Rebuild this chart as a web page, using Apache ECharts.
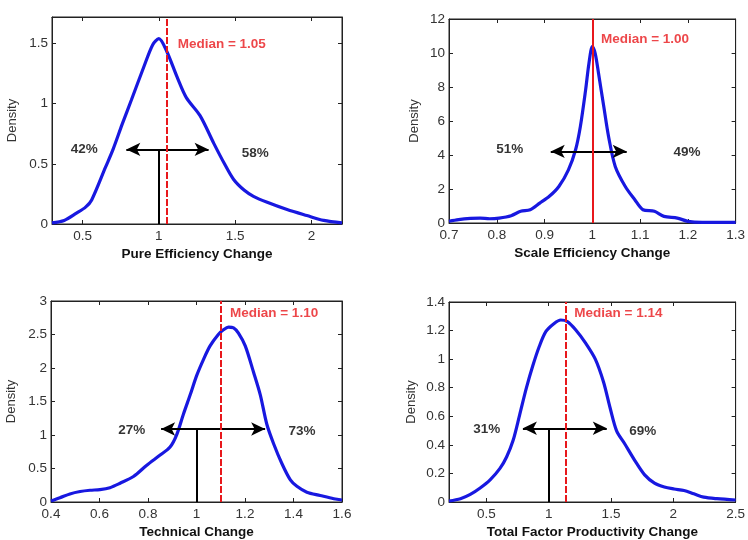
<!DOCTYPE html>
<html><head><meta charset="utf-8">
<script src="https://cdn.jsdelivr.net/npm/echarts@6.0.0/dist/echarts.min.js"></script>
<style>html,body{margin:0;padding:0;background:#fff}#c{width:748px;height:540px}</style>
</head><body><div id="c"></div><script>
// ---- data ----
const peX=[0.30,0.38,0.46,0.52,0.56,0.65,0.70,0.76,0.82,0.90,0.96,1.00,1.05,1.12,1.18,1.27,1.36,1.43,1.49,1.56,1.62,1.71,1.84,1.97,2.08,2.20];
const peY=[0.01,0.03,0.09,0.14,0.20,0.47,0.62,0.83,1.03,1.30,1.49,1.54,1.44,1.22,1.05,0.90,0.67,0.50,0.37,0.28,0.23,0.18,0.12,0.07,0.03,0.01];
const seX=[0.70,0.72,0.745,0.765,0.785,0.805,0.83,0.85,0.87,0.89,0.91,0.93,0.95,0.965,0.975,0.986,0.993,1.000,1.006,1.013,1.024,1.034,1.048,1.069,1.089,1.106,1.13,1.15,1.178,1.20,1.23,1.30];
const seY=[0.10,0.20,0.27,0.29,0.25,0.29,0.43,0.69,0.78,1.17,1.57,2.15,3.13,4.31,5.68,7.83,9.40,10.38,9.98,8.81,6.85,5.09,3.33,2.15,1.37,0.78,0.69,0.39,0.29,0.10,0.04,0.04];
const tcX=[0.40,0.437,0.478,0.52,0.561,0.602,0.643,0.685,0.74,0.795,0.85,0.891,0.919,0.946,0.974,1.001,1.029,1.056,1.09,1.111,1.132,1.153,1.173,1.201,1.235,1.263,1.29,1.318,1.352,1.387,1.414,1.455,1.51,1.566,1.60];
const tcY=[0.015,0.063,0.12,0.156,0.175,0.185,0.214,0.28,0.38,0.55,0.70,0.82,1.01,1.31,1.60,1.89,2.13,2.33,2.50,2.57,2.61,2.60,2.52,2.33,1.94,1.60,1.16,0.87,0.575,0.33,0.234,0.146,0.097,0.049,0.03];
const tfX=[0.20,0.292,0.371,0.45,0.53,0.609,0.662,0.714,0.767,0.82,0.873,0.925,0.978,1.044,1.097,1.15,1.216,1.295,1.374,1.44,1.493,1.545,1.611,1.69,1.77,1.849,1.928,2.007,2.086,2.165,2.244,2.35,2.50];
const tfY=[0.007,0.023,0.053,0.098,0.155,0.235,0.315,0.43,0.61,0.795,0.955,1.09,1.194,1.25,1.274,1.263,1.206,1.114,1.0,0.84,0.658,0.498,0.406,0.292,0.19,0.132,0.105,0.091,0.08,0.057,0.034,0.023,0.014];
const xTitles=['Pure Efficiency Change','Scale Efficiency Change','Technical Change','Total Factor Productivity Change'];
const medians=[1.05,1.00,1.10,1.14];
const medianLabels=['Median = 1.05','Median = 1.00','Median = 1.10','Median = 1.14'];
const leftShares=['42%','51%','27%','31%'];
const rightShares=['58%','49%','73%','69%'];
const curvesX=[peX,seX,tcX,tfX], curvesY=[peY,seY,tcY,tfY];

// ---- layout / annotation placement ----
const F='"Liberation Sans", Arial, Helvetica, sans-serif';
const P=[
 {grid:{left:52,top:17,width:290,height:207}, xMin:0.3,xMax:2.2,xNice:true,xInt:0.5, yMax:1.72,yInt:0.5, yShowMax:false, nameGapY:33,
  arrowY:0.62,arrowL:0.787,arrowR:1.326, lPos:[0.512,0.62], rPos:[1.632,0.585], mPos:[1.12,1.49], dashed:true},
 {grid:{left:449,top:19,width:291,height:204}, xMin:0.7,xMax:1.3,xInt:0.1, yMax:12,yInt:2, yShowMax:true, nameGapY:28,
  arrowY:4.21,arrowL:0.913,arrowR:1.072, lPos:[0.827,4.31], rPos:[1.198,4.15], mPos:[1.017,10.8], dashed:false},
 {grid:{left:51,top:301,width:291,height:205}, xMin:0.4,xMax:1.6,xInt:0.2, yMax:3,yInt:0.5, yShowMax:true, nameGapY:33,
  arrowY:1.09,arrowL:0.854,arrowR:1.283, lPos:[0.733,1.07], rPos:[1.435,1.06], mPos:[1.136,2.82], dashed:true},
 {grid:{left:449,top:302,width:291,height:204}, xMin:0.2,xMax:2.5,xNice:true,xInt:0.5, yMax:1.4,yInt:0.2, yShowMax:true, nameGapY:31,
  arrowY:0.516,arrowL:0.793,arrowR:1.466, lPos:[0.503,0.509], rPos:[1.755,0.498], mPos:[1.202,1.32], dashed:true}
];
const AX='#222';
const grids=[], xAxes=[], yAxes=[], series=[];
P.forEach((p,i)=>{
  grids.push(Object.assign({show:true,borderColor:AX,borderWidth:1,backgroundColor:'#fff'},p.grid));
  const xBase={type:'value',gridIndex:i,min:p.xMin,max:p.xMax,splitLine:{show:false},
    axisLine:{show:true,onZero:false,lineStyle:{color:AX,width:1}},
    axisTick:{show:true,inside:true,length:4,lineStyle:{color:AX}}};
  if(p.xNice){xBase.splitNumber=4;xBase.minInterval=p.xInt;xBase.maxInterval=p.xInt;}else{xBase.interval=p.xInt;}
  xAxes.push(Object.assign({},xBase,{position:'bottom',
    axisLabel:{color:'#333',fontSize:13.5,fontFamily:F,margin:5,showMinLabel:!p.xNice,showMaxLabel:(i===0?false:true)},
    name:xTitles[i],nameLocation:'middle',nameGap:23,
    nameTextStyle:{color:'#111',fontSize:13.5,fontWeight:'bold',fontFamily:F}}));
  xAxes.push(Object.assign({},xBase,{position:'top',axisLabel:{show:false}}));
  const yBase={type:'value',gridIndex:i,min:0,max:p.yMax,interval:p.yInt,splitLine:{show:false},
    axisLine:{show:true,onZero:false,lineStyle:{color:AX,width:1}},
    axisTick:{show:true,inside:true,length:4,lineStyle:{color:AX}}};
  yAxes.push(Object.assign({},yBase,{position:'left',
    axisLabel:{color:'#333',fontSize:13.5,fontFamily:F,margin:4,showMaxLabel:p.yShowMax},
    name:'Density',nameLocation:'middle',nameGap:p.nameGapY,
    nameTextStyle:{color:'#333',fontSize:13,fontFamily:F}}));
  yAxes.push(Object.assign({},yBase,{position:'right',axisLabel:{show:false}}));

  const xi=2*i, yi=2*i;
  const pts=curvesX[i].map((x,k)=>[x,curvesY[i][k]]);
  series.push({type:'line',xAxisIndex:xi,yAxisIndex:yi,data:[],silent:true,z:2,
    markLine:{silent:true,animation:false,label:{show:false},
      data:[
        [{coord:[1,0],symbol:'none'},{coord:[1,p.arrowY],symbol:'none'}],
        [{coord:[p.arrowL,p.arrowY],symbol:'arrow'},{coord:[p.arrowR,p.arrowY],symbol:'arrow'}]
      ],
      symbolSize:[10,14],
      lineStyle:{color:'#000',width:2,type:'solid'}}});
  series.push({type:'line',xAxisIndex:xi,yAxisIndex:yi,data:pts,showSymbol:false,symbol:'none',
    smooth:0.3,z:3,lineStyle:{color:'#1818e0',width:3.2},animation:false});
  series.push({type:'line',xAxisIndex:xi,yAxisIndex:yi,data:[],silent:true,z:4,
    markLine:{silent:true,animation:false,symbol:['none','none'],label:{show:false},
      data:[{xAxis:medians[i]}],
      lineStyle:{color:'#e8181c',width:2,type:p.dashed?[7,2]:'solid'}}});
  series.push({type:'scatter',xAxisIndex:xi,yAxisIndex:yi,symbolSize:1,z:5,silent:true,
    itemStyle:{color:'rgba(0,0,0,0)'},animation:false,
    data:[
      {value:p.lPos,name:leftShares[i],label:{show:true,position:'inside',formatter:'{b}',color:'#000',fontSize:13.5,fontWeight:'bold',fontFamily:F}},
      {value:p.rPos,name:rightShares[i],label:{show:true,position:'inside',formatter:'{b}',color:'#000',fontSize:13.5,fontWeight:'bold',fontFamily:F}},
      {value:p.mPos,name:medianLabels[i],label:{show:true,position:'right',distance:0,formatter:'{b}',color:'#e8181c',fontSize:13.5,fontWeight:'bold',fontFamily:F}}
    ]});
});
const chart=echarts.init(document.getElementById('c'),null,{renderer:'canvas'});
chart.setOption({backgroundColor:'#fff',animation:false,grid:grids,xAxis:xAxes,yAxis:yAxes,series:series});
</script></body></html>
